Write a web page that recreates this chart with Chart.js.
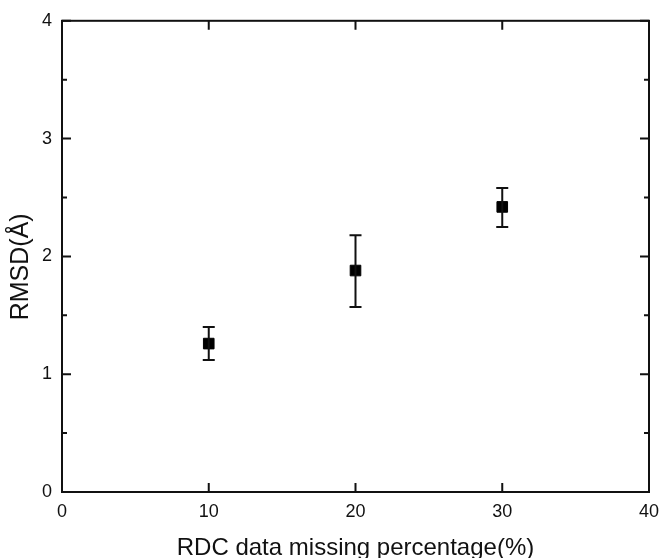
<!DOCTYPE html>
<html>
<head>
<meta charset="utf-8">
<script src="https://cdn.jsdelivr.net/npm/chart.js@4/dist/chart.umd.min.js"></script>
<style>
  html, body { margin: 0; padding: 0; background: #fff; }
  canvas { display: block; }
</style>
</head>
<body>
<canvas id="rmsdChart" width="659" height="558"></canvas>
<script>
const missingPct = [10, 20, 30];
const rmsd = [1.26, 1.88, 2.42];
const errLow = [1.12, 1.57, 2.25];
const errHigh = [1.40, 2.18, 2.58];
const xTicks = [0, 10, 20, 30, 40];
const yTicks = [0, 1, 2, 3, 4];
const yMinorTicks = [0.5, 1.5, 2.5, 3.5];

const ink = '#111';

// error bars, frame and inward tick marks
const framePlugin = {
  id: 'frame',
  afterDatasetsDraw(chart) {
    const { ctx, scales: { x, y } } = chart;
    ctx.save();
    ctx.strokeStyle = ink;
    ctx.lineWidth = 2;
    missingPct.forEach((v, i) => {
      const px = x.getPixelForValue(v);
      const lo = y.getPixelForValue(errLow[i]);
      const hi = y.getPixelForValue(errHigh[i]);
      ctx.beginPath();
      ctx.moveTo(px, lo); ctx.lineTo(px, hi);
      ctx.moveTo(px - 6, lo); ctx.lineTo(px + 6, lo);
      ctx.moveTo(px - 6, hi); ctx.lineTo(px + 6, hi);
      ctx.stroke();
    });
    ctx.restore();
  },
  afterDraw(chart) {
    const { ctx, chartArea: a, scales: { x, y } } = chart;
    ctx.save();
    ctx.strokeStyle = ink;
    ctx.lineWidth = 2;
    ctx.strokeRect(a.left, a.top, a.right - a.left, a.bottom - a.top);
    ctx.beginPath();
    xTicks.forEach(v => {
      const px = x.getPixelForValue(v);
      ctx.moveTo(px, a.bottom); ctx.lineTo(px, a.bottom - 9);
      ctx.moveTo(px, a.top); ctx.lineTo(px, a.top + 9);
    });
    yTicks.forEach(v => {
      const py = y.getPixelForValue(v);
      ctx.moveTo(a.left, py); ctx.lineTo(a.left + 9, py);
      ctx.moveTo(a.right, py); ctx.lineTo(a.right - 9, py);
    });
    yMinorTicks.forEach(v => {
      const py = y.getPixelForValue(v);
      ctx.moveTo(a.left, py); ctx.lineTo(a.left + 5, py);
      ctx.moveTo(a.right, py); ctx.lineTo(a.right - 5, py);
    });
    ctx.stroke();
    ctx.restore();
  }
};

const tickFont = { family: 'Liberation Sans, Arial, sans-serif', size: 18 };
const titleFont = { family: 'Liberation Sans, Arial, sans-serif', size: 24, lineHeight: 1 };

new Chart(document.getElementById('rmsdChart'), {
  type: 'scatter',
  data: {
    datasets: [{
      label: 'RMSD',
      data: missingPct.map((v, i) => ({ x: v, y: rmsd[i] })),
      pointStyle: 'rect',
      pointRadius: 7.5,
      pointHoverRadius: 7.5,
      backgroundColor: '#000',
      borderColor: '#000',
      borderWidth: 1
    }]
  },
  options: {
    responsive: false,
    animation: false,
    layout: { padding: { top: 20, right: 0, left: 0, bottom: 0 } },
    plugins: { legend: { display: false }, tooltip: { enabled: false } },
    scales: {
      x: {
        type: 'linear',
        min: 0, max: 40,
        afterBuildTicks: s => { s.ticks = xTicks.map(v => ({ value: v })); },
        afterFit: s => { s.height = 66; s.paddingRight = 10; s.paddingLeft = 0; },
        grid: { display: false, drawTicks: false },
        border: { display: false },
        ticks: { color: ink, font: tickFont, padding: 9, maxRotation: 0 },
        title: {
          display: true,
          text: 'RDC data missing percentage(%)',
          color: ink,
          font: titleFont,
          padding: { top: 0, bottom: -2 }
        }
      },
      y: {
        type: 'linear',
        min: 0, max: 4,
        afterBuildTicks: s => { s.ticks = yTicks.map(v => ({ value: v })); },
        afterFit: s => { s.width = 62; },
        grid: { display: false, drawTicks: false },
        border: { display: false },
        ticks: { color: ink, font: tickFont, padding: 10 },
        title: {
          display: true,
          text: 'RMSD(Å)   ',
          color: ink,
          font: { family: 'Liberation Sans, Arial, sans-serif', size: 25, lineHeight: 1 },
          padding: { top: 9, bottom: 0 }
        }
      }
    }
  },
  plugins: [framePlugin]
});
</script>
</body>
</html>
